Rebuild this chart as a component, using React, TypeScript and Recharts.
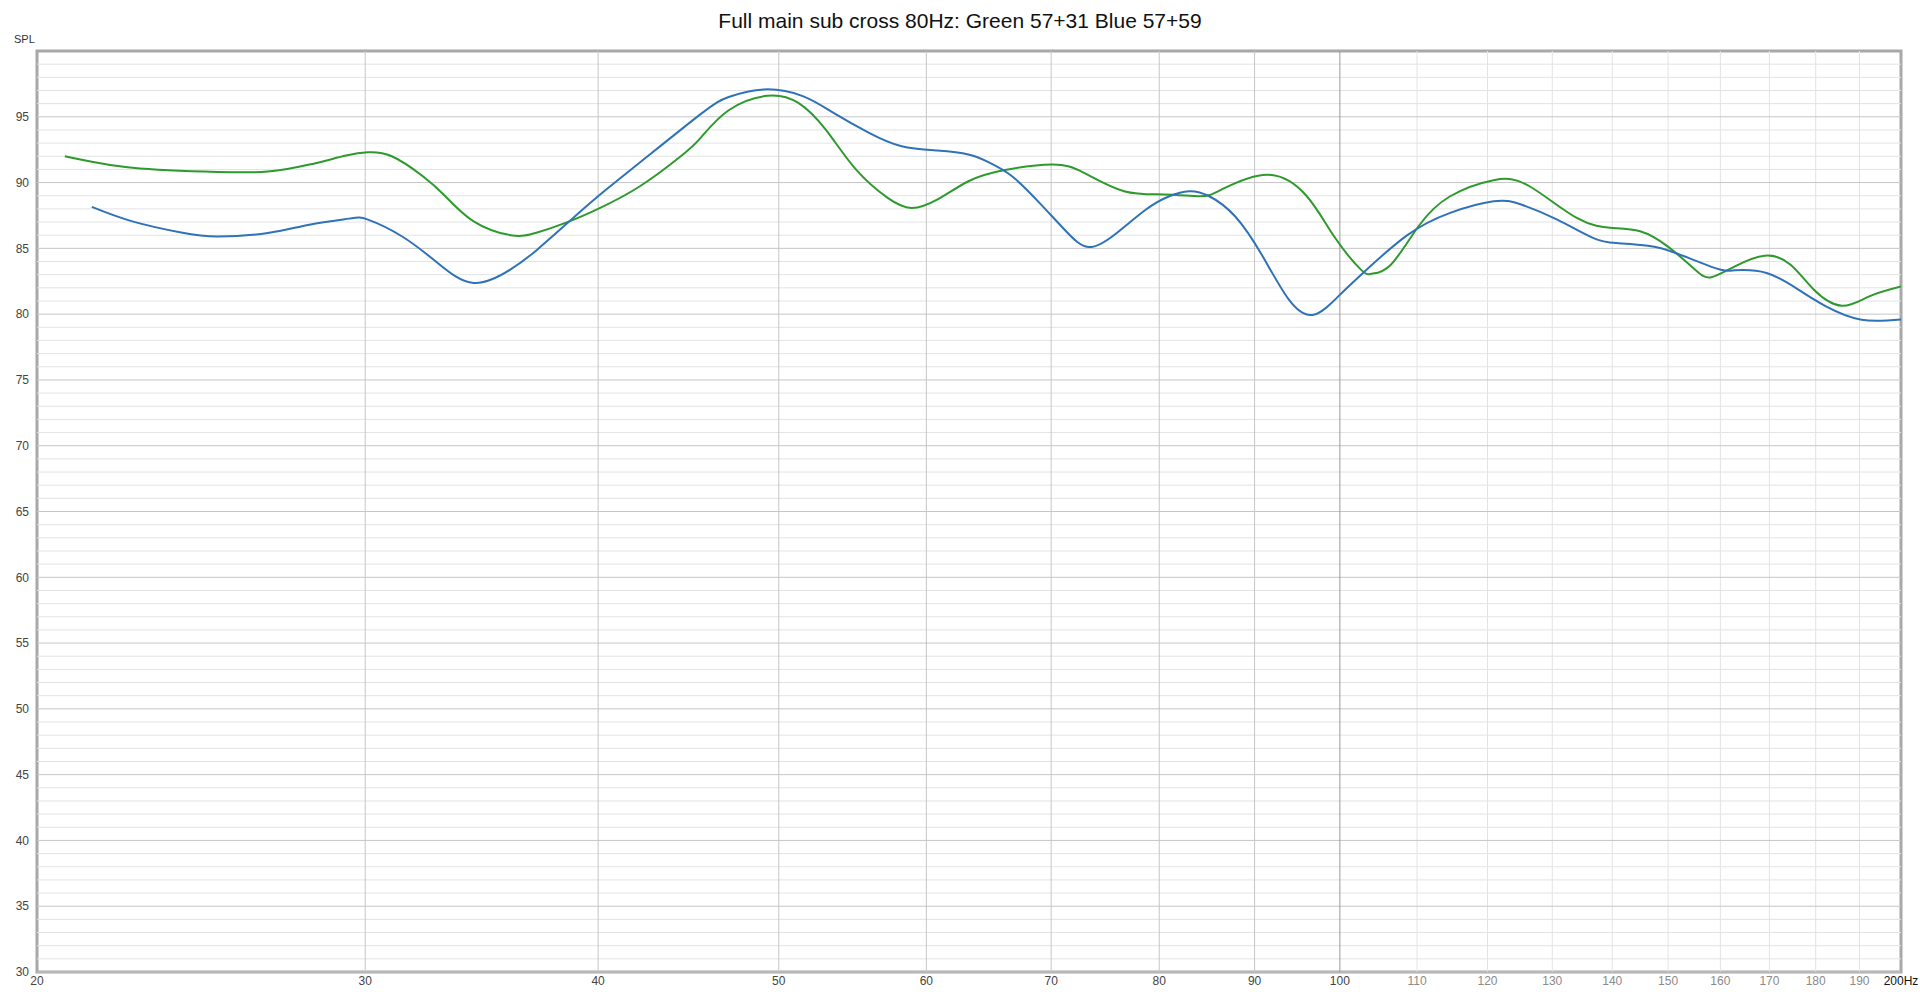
import React from "react";
import { LineChart, Line, XAxis, YAxis, ReferenceLine, ReferenceArea } from "recharts";

const greenFreq = [20.7, 22.5, 25.0, 26.6, 28.0, 29.3, 30.1, 31.0, 32.2, 33.1, 34.3, 35.9, 37.1, 38.6, 40.0, 42.1, 44.3, 45.4, 47.0, 49.3, 51.2, 53.0, 55.0, 57.2, 58.9, 60.8, 63.2, 66.0, 70.1, 72.9, 76.6, 80.5, 84.1, 86.4, 91.4, 96.0, 99.3, 102.6, 104.0, 106.5, 110.2, 114.6, 120.9, 126.4, 134.0, 140.0, 144.9, 149.9, 155.1, 158.2, 162.9, 169.0, 174.5, 179.6, 185.9, 192.3, 200];
const greenDb = [92.0, 91.12, 90.8, 90.84, 91.37, 92.05, 92.3, 92.0, 90.5, 89.0, 87.05, 86.0, 86.2, 87.05, 88.0, 89.7, 92.0, 93.4, 95.5, 96.6, 96.07, 94.0, 91.0, 88.84, 88.07, 88.7, 90.1, 90.94, 91.37, 90.74, 89.34, 89.1, 88.96, 89.47, 90.6, 88.96, 85.9, 83.4, 83.07, 83.76, 86.68, 88.96, 90.18, 89.72, 87.31, 86.55, 86.3, 85.15, 83.38, 82.8, 83.63, 84.44, 83.76, 81.86, 80.64, 81.35, 82.1];

const blueFreq = [21.4, 22.5, 23.9, 25.0, 26.6, 28.0, 29.4, 30.1, 31.4, 32.8, 34.3, 35.9, 37.1, 38.6, 40.0, 42.1, 45.4, 47.0, 49.1, 51.5, 53.5, 55.9, 58.2, 60.8, 63.2, 64.9, 66.7, 69.0, 71.3, 73.3, 75.7, 78.7, 81.0, 83.0, 85.1, 87.9, 90.9, 93.9, 96.8, 99.8, 102.9, 108.6, 114.6, 120.9, 125.1, 130.8, 136.7, 140.7, 146.3, 151.4, 159.0, 162.9, 169.4, 176.2, 182.3, 190.5, 200];
const blueDb = [88.15, 87.05, 86.2, 85.9, 86.17, 86.8, 87.26, 87.18, 85.9, 83.9, 82.37, 83.4, 84.9, 87.05, 88.96, 91.5, 95.2, 96.5, 97.08, 96.57, 95.3, 93.78, 92.76, 92.43, 92.13, 91.5, 90.48, 88.46, 86.3, 85.1, 86.04, 87.95, 88.96, 89.34, 88.96, 87.4, 84.4, 81.1, 79.95, 81.35, 83.13, 85.97, 87.7, 88.58, 88.33, 87.18, 85.8, 85.4, 85.2, 84.65, 83.5, 83.33, 83.13, 81.86, 80.59, 79.57, 79.6];

const xTicks = [20, 30, 40, 50, 60, 70, 80, 90, 100, 110, 120, 130, 140, 150, 160, 170, 180, 190, 200];
const xMajorGrid = [30, 40, 50, 60, 70, 80, 90];
const xDecadeGrid = [100];
const xMinorGrid = [110, 120, 130, 140, 150, 160, 170, 180, 190];
const yTicks = [30, 35, 40, 45, 50, 55, 60, 65, 70, 75, 80, 85, 90, 95];
const yMinorGrid: number[] = [];
for (let v = 31; v < 100; v++) if (v % 5 !== 0) yMinorGrid.push(v);

const title = "Full main sub cross 80Hz: Green 57+31 Blue 57+59";

const greenData = greenFreq.map((f, i) => ({ f, db: greenDb[i] }));
const blueData = blueFreq.map((f, i) => ({ f, db: blueDb[i] }));

const FONT = "'Liberation Sans', Arial, sans-serif";

const XTick = (props: any) => {
  const { x, y, payload } = props;
  const v = payload.value;
  const fill = v === 200 ? "#111" : v > 100 ? "#8a8a8a" : "#444";
  const txt = v === 200 ? "200Hz" : String(v);
  return (
    <text x={x} y={y} dy="0.71em" textAnchor="middle" fill={fill} fontSize={12} fontFamily={FONT}>
      {txt}
    </text>
  );
};

const SplLabel = (props: any) => {
  const vb = props.viewBox || { x: 0, y: 51, width: 37 };
  return (
    <text x={vb.x + 14} y={vb.y - 8} fill="#333" fontSize={11} fontFamily={FONT}>
      SPL
    </text>
  );
};

export default function App() {
  return (
    <div style={{ position: "absolute", left: 0, top: 0, width: 1920, height: 992, background: "#fff" }}>
      <div
        style={{
          position: "absolute",
          left: 0,
          width: 1920,
          top: 8,
          textAlign: "center",
          fontFamily: FONT,
          fontSize: 21,
          lineHeight: "26px",
          color: "#111",
        }}
      >
        {title}
      </div>
      <LineChart width={1920} height={992} margin={{ top: 51, right: 19, left: 0, bottom: 0 }}>
        <XAxis
          dataKey="f"
          type="number"
          scale="log"
          domain={[20, 200]}
          ticks={xTicks}
          interval={0}
          axisLine={false}
          tickLine={false}
          tickSize={0}
          tickMargin={4}
          height={20}
          tick={<XTick />}
          allowDataOverflow
        />
        <YAxis
          type="number"
          domain={[30, 100]}
          ticks={yTicks}
          interval={0}
          axisLine={false}
          tickLine={false}
          width={37}
          tick={{ fill: "#444", fontSize: 12, fontFamily: FONT }}
          label={<SplLabel />}
          allowDataOverflow
        />
        {yMinorGrid.map((v) => (
          <ReferenceLine key={"ym" + v} y={v} stroke="#e3e3e3" strokeWidth={1} />
        ))}
        {xMinorGrid.map((v) => (
          <ReferenceLine key={"xm" + v} x={v} stroke="#e3e3e3" strokeWidth={1} />
        ))}
        {yTicks.map((v) => (
          <ReferenceLine key={"yM" + v} y={v} stroke="#c6c6c6" strokeWidth={1} />
        ))}
        {xMajorGrid.map((v) => (
          <ReferenceLine key={"xM" + v} x={v} stroke="#c6c6c6" strokeWidth={1} />
        ))}
        {xDecadeGrid.map((v) => (
          <ReferenceLine key={"xD" + v} x={v} stroke="#9a9a9a" strokeWidth={1} />
        ))}
        <ReferenceArea x1={20} x2={200} y1={30} y2={100} fill="none" stroke="#a8a8a8" strokeWidth={3} ifOverflow="visible" />
        <Line data={greenData} dataKey="db" type="natural" stroke="#2e9a2e" strokeWidth={2} dot={false} isAnimationActive={false} />
        <Line data={blueData} dataKey="db" type="natural" stroke="#2f72b8" strokeWidth={2} dot={false} isAnimationActive={false} />
      </LineChart>
    </div>
  );
}
